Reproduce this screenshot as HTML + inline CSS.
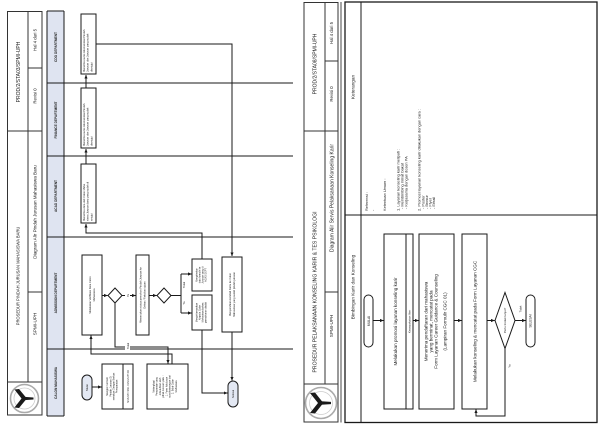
<!DOCTYPE html>
<html><head><meta charset="utf-8"><style>
html,body{margin:0;padding:0;background:#fff;}
svg{display:block;}
text{font-family:"Liberation Sans",sans-serif;fill:#222;}
.b{font-weight:bold;fill:#222;}
</style></head><body>
<svg width="600" height="424" viewBox="0 0 600 424" xmlns="http://www.w3.org/2000/svg">
<defs>
<marker id="a" markerWidth="4" markerHeight="4" refX="3.6" refY="2" orient="auto" markerUnits="userSpaceOnUse"><path d="M0,0.4 L3.8,2 L0,3.6 z" fill="#1a1a1a"/></marker>
</defs>
<rect width="600" height="424" fill="#fff"/>

<!-- ============ LEFT PAGE ============ -->
<g fill="none" stroke="#333" stroke-width="1">
<rect x="7.5" y="11.5" width="34.5" height="403.5"/>
<line x1="28" y1="11.5" x2="28" y2="382"/>
<line x1="7.5" y1="131" x2="42" y2="131"/>
<line x1="7.5" y1="382" x2="42" y2="382"/>
<line x1="28" y1="68" x2="42" y2="68"/>
<line x1="28" y1="292" x2="42" y2="292"/>
</g>
<text transform="translate(19.8,72) rotate(-90)" text-anchor="middle" font-size="5">PROD/2/STA03/SPMI-UPH</text>
<text transform="translate(19.6,276) rotate(-90)" text-anchor="middle" font-size="4.1">PROSEDUR PINDAH JURUSAN MAHASISWA BARU</text>
<text transform="translate(36.6,40) rotate(-90)" text-anchor="middle" font-size="4.3">Hal 4 dari 5</text>
<text transform="translate(36.6,96) rotate(-90)" text-anchor="middle" font-size="4.3">Revisi 0</text>
<text transform="translate(36.6,212) rotate(-90)" text-anchor="middle" font-size="4.6">Diagram Alir Pindah Jurusan Mahasiswa Baru</text>
<text transform="translate(36.6,324) rotate(-90)" text-anchor="middle" font-size="4.6">SPMI-UPH</text>
<!-- left logo -->
<g transform="translate(24.5,398.5)">
<circle r="14" fill="#fff" stroke="#aaa" stroke-width="1.6"/>
<circle r="10.5" fill="none" stroke="#ccc" stroke-width="0.8"/>
<path d="M-10,-9 L-5.5,-9.5 L1.5,-1 L-2,1.2 z" fill="#1a1a1a"/>
<path d="M-10,9 L-5.5,9.5 L1.5,1 L-2,-1.2 z" fill="#1a1a1a"/>
<path d="M0,-1.6 L9,-1 L9,1 L0,1.6 z" fill="#1a1a1a"/>
</g>

<!-- lane header column -->
<rect x="47" y="11" width="17" height="405" fill="#dfe4f1"/>
<g stroke="#1a1a1a" stroke-width="1" fill="none">
<line x1="47" y1="11" x2="47" y2="416"/>
<line x1="64" y1="11" x2="64" y2="416"/>
<line x1="47" y1="11" x2="64" y2="11"/>
<line x1="47" y1="416" x2="64" y2="416"/>
<line x1="47" y1="83" x2="293" y2="83"/>
<line x1="47" y1="156" x2="293" y2="156"/>
<line x1="47" y1="237" x2="293" y2="237"/>
<line x1="47" y1="349" x2="293" y2="349"/>
</g>
<text class="b" transform="translate(56.8,47) rotate(-90)" text-anchor="middle" font-size="3.2">CDO DEPARTMENT</text>
<text class="b" transform="translate(56.8,120) rotate(-90)" text-anchor="middle" font-size="3.2">FINANCE DEPARTMENT</text>
<text class="b" transform="translate(56.8,196) rotate(-90)" text-anchor="middle" font-size="3.2">ACAD DEPARTMENT</text>
<text class="b" transform="translate(56.8,293) rotate(-90)" text-anchor="middle" font-size="3.2">ADMISSION DEPARTMENT</text>
<text class="b" transform="translate(56.8,383) rotate(-90)" text-anchor="middle" font-size="3.2">CALON MAHASISWA</text>

<!-- connectors left page -->
<g stroke="#1a1a1a" stroke-width="1" fill="none">
<polyline points="96,44 232,44 232,256" marker-end="url(#a)"/>
<line x1="86" y1="88" x2="86" y2="75" marker-end="url(#a)"/>
<line x1="86" y1="164" x2="86" y2="149" marker-end="url(#a)"/>
<polyline points="202,259 202,233 86,233 86,224" marker-end="url(#a)"/>
<line x1="232" y1="332" x2="232" y2="380.5" marker-end="url(#a)"/>
<polyline points="202,330 202,393 227.5,393" marker-end="url(#a)"/>
<line x1="102" y1="295.5" x2="107.6" y2="295.5" marker-end="url(#a)"/>
<line x1="122" y1="295.5" x2="135.6" y2="295.5" marker-end="url(#a)"/>
<line x1="149" y1="295.5" x2="156.6" y2="295.5" marker-end="url(#a)"/>
<polyline points="171,295.5 181,295.5"/>
<line x1="181" y1="274" x2="181" y2="313"/>
<line x1="181" y1="274" x2="191.6" y2="274" marker-end="url(#a)"/>
<line x1="181" y1="313" x2="191.6" y2="313" marker-end="url(#a)"/>
<polyline points="115,303 115,347 168,347 168,363.5" marker-end="url(#a)"/>
<polyline points="172,364 172,354 91,354 91,335.5" marker-end="url(#a)"/>
<line x1="92" y1="387" x2="101.6" y2="387" marker-end="url(#a)"/>
</g>
<!-- labels -->
<rect x="125" y="292" width="5" height="7" fill="#fff"/>
<text transform="translate(128.8,295.5) rotate(-90)" text-anchor="middle" font-size="2.6">Ya</text>
<rect x="125" y="341" width="5" height="10" fill="#fff"/>
<text transform="translate(128.8,346) rotate(-90)" text-anchor="middle" font-size="2.6">Tidak</text>
<text transform="translate(185,303) rotate(-90)" text-anchor="middle" font-size="2.6">Ya</text>
<text transform="translate(185,285) rotate(-90)" text-anchor="middle" font-size="2.6">Tidak</text>

<!-- shapes left page -->
<g stroke="#1a1a1a" stroke-width="1" fill="#fff">
<rect x="81" y="14" width="15" height="60"/>
<rect x="81" y="88" width="15" height="60"/>
<rect x="81" y="164" width="15" height="59"/>
<rect x="82" y="255" width="20" height="80"/>
<polygon points="108,295.5 115,288 122,295.5 115,303"/>
<rect x="136" y="255" width="13" height="80"/>
<polygon points="157,295.5 164,288 171,295.5 164,303"/>
<rect x="192" y="259" width="20" height="32"/>
<rect x="192" y="295" width="20" height="35"/>
<rect x="222" y="257" width="20" height="75"/>
<rect x="102" y="364" width="31" height="45"/>
<line x1="123" y1="364" x2="123" y2="409"/>
<rect x="147" y="364" width="41" height="45"/>
<rect x="82" y="375" width="10" height="25" rx="5" fill="#e3e8f3"/>
<rect x="228" y="381" width="10" height="26" rx="5" fill="#e3e8f3"/>
</g>
<!-- box texts left page -->
<g font-size="2.6">
<text transform="translate(88.5,72) rotate(-90)"><tspan x="0" y="-3.4">Menerima surat rekomendasi Pindah</tspan><tspan x="0" y="0.2">Jurusan dan Jurusan yang sudah</tspan><tspan x="0" y="3.8">disetujui</tspan></text>
<text transform="translate(88.5,146) rotate(-90)"><tspan x="0" y="-3.4">Menerima surat rekomendasi Pindah</tspan><tspan x="0" y="0.2">Jurusan dan Jurusan yang sudah</tspan><tspan x="0" y="3.8">disetujui</tspan></text>
<text transform="translate(88.5,221) rotate(-90)"><tspan x="0" y="-3.4">Menerima data dari Calon Maha</tspan><tspan x="0" y="0.2">siswa Jurusan baru yang sudah di</tspan><tspan x="0" y="3.8">setujui</tspan></text>
<text transform="translate(92,295) rotate(-90)" text-anchor="middle"><tspan x="0" y="-0.8">Melakukan Verifikasi Data Calon</tspan><tspan x="0" y="2.8">Mahasiswa</tspan></text>
<text transform="translate(142.5,295) rotate(-90)" text-anchor="middle"><tspan x="0" y="-0.8">Menentukan status pemohon Pindah Jurusan ke</tspan><tspan x="0" y="2.8">Dekan / Fakultas tujuan</tspan></text>
<text transform="translate(202,275) rotate(-90)" text-anchor="middle" font-size="2.4"><tspan x="0" y="-4.6">Mengirimkan</tspan><tspan x="0" y="-1.6">data formulir ke</tspan><tspan x="0" y="1.4">Jurusan yang di</tspan><tspan x="0" y="4.4">ACAD DEPT</tspan></text>
<text transform="translate(202,312.5) rotate(-90)" text-anchor="middle" font-size="2.4"><tspan x="0" y="-4.6">Menginformasikan</tspan><tspan x="0" y="-1.6">Kepada Calon</tspan><tspan x="0" y="1.4">Mahasiswa bahwa</tspan><tspan x="0" y="4.4">permohonan ditolak</tspan></text>
<text transform="translate(232,294.5) rotate(-90)" text-anchor="middle"><tspan x="0" y="-0.8">Menyerahkan kembali Kartu ke Calon</tspan><tspan x="0" y="2.8">Mahasiswa yang sudah pindah jurusan</tspan></text>
<text transform="translate(87,387.5) rotate(-90)" text-anchor="middle" font-size="2.8" y="1">Mulai</text>
<text transform="translate(233,394) rotate(-90)" text-anchor="middle" font-size="2.6" y="1">Selesai</text>
<text transform="translate(112.5,386.5) rotate(-90)" text-anchor="middle" font-size="2.5"><tspan x="0" y="-4.4">Mengisi Formulir</tspan><tspan x="0" y="-1.2">Pindah Jurusan Di</tspan><tspan x="0" y="2">sertakan Dengan Berkas</tspan><tspan x="0" y="5.2">Persyaratan</tspan></text>
<text transform="translate(129,386.5) rotate(-90)" text-anchor="middle" font-size="2.4">MKS-STF NM1 FRM1/UPH 03</text>
<text transform="translate(167.5,386.5) rotate(-90)" text-anchor="middle" font-size="2.4"><tspan x="0" y="-13">Melengkapi</tspan><tspan x="0" y="-9.8">Persyaratan yang</tspan><tspan x="0" y="-6.6">di butuhkan oleh</tspan><tspan x="0" y="-3.4">pihak Jurusan yaitu :</tspan><tspan x="0" y="-0.2">1. Form Kelulusan</tspan><tspan x="0" y="3">surat keterangan dari</tspan><tspan x="0" y="6.2">2. Bukti Calon</tspan><tspan x="0" y="9.4">Mahasiswa</tspan></text>
</g>

<!-- ============ RIGHT PAGE ============ -->
<g fill="none" stroke="#333" stroke-width="1">
<rect x="304" y="2.5" width="34" height="419.5"/>
<line x1="325" y1="2.5" x2="325" y2="384"/>
<line x1="304" y1="131" x2="338" y2="131"/>
<line x1="304" y1="384" x2="338" y2="384"/>
<line x1="325" y1="61" x2="338" y2="61"/>
<line x1="325" y1="292" x2="338" y2="292"/>
</g>
<text transform="translate(316.3,64) rotate(-90)" text-anchor="middle" font-size="5">PROD/2/STA08/SPMI-UPH</text>
<text transform="translate(316.7,292) rotate(-90)" text-anchor="middle" font-size="5.1">PROSEDUR PELAKSANAAN KONSELING KARIR &amp; TES PSIKOLOGI</text>
<text transform="translate(333,33) rotate(-90)" text-anchor="middle" font-size="4.3">Hal 4 dari 5</text>
<text transform="translate(333,94) rotate(-90)" text-anchor="middle" font-size="4.3">Revisi 0</text>
<text transform="translate(333.4,198) rotate(-90)" text-anchor="middle" font-size="5">Diagram Alir Servis Pelaksanaan Konseling Karir</text>
<text transform="translate(333.2,326) rotate(-90)" text-anchor="middle" font-size="4.6">SPMI-UPH</text>
<g transform="translate(321,403)">
<circle r="15.5" fill="#fff" stroke="#aaa" stroke-width="1.6"/>
<circle r="11.5" fill="none" stroke="#ccc" stroke-width="0.8"/>
<path d="M-11,-10 L-6,-10.5 L1.5,-1 L-2,1.3 z" fill="#1a1a1a"/>
<path d="M-11,10 L-6,10.5 L1.5,1 L-2,-1.3 z" fill="#1a1a1a"/>
<path d="M0,-1.8 L10,-1.1 L10,1.1 L0,1.8 z" fill="#1a1a1a"/>
</g>

<!-- main table frame -->
<g fill="none" stroke="#1a1a1a">
<line x1="341" y1="2" x2="341" y2="422.5" stroke-width="0.8"/>
<rect x="345" y="2" width="252" height="420.5" stroke-width="1.3"/>
<line x1="361" y1="2" x2="361" y2="422.5" stroke-width="1"/>
<line x1="345" y1="215" x2="597" y2="215" stroke-width="1"/>
</g>
<text transform="translate(354.6,87) rotate(-90)" text-anchor="middle" font-size="4.7">Keterangan</text>
<text transform="translate(354.6,287) rotate(-90)" text-anchor="middle" font-size="4.7">Bimbingan Karir dan Konseling</text>

<g font-size="3.9">
<text transform="translate(368,211) rotate(-90)">Referensi :</text>
<text transform="translate(374,211) rotate(-90)">-</text>
<text transform="translate(386,211) rotate(-90)">Ketentuan Umum :</text>
<text transform="translate(399.5,211) rotate(-90)">1. Layanan konseling karir meliputi :</text>
<text transform="translate(403.5,209) rotate(-90)">- Membimbing minat bakat</text>
<text transform="translate(407.5,209) rotate(-90)">- Kerjasama dengan dosen PA</text>
<text transform="translate(420.5,211) rotate(-90)">2. Promosi layanan konseling karir dilakukan dengan cara :</text>
<text transform="translate(424.5,209) rotate(-90)">- Poster</text>
<text transform="translate(428,209) rotate(-90)">- Brosur</text>
<text transform="translate(431.5,209) rotate(-90)">- Flyer</text>
<text transform="translate(435,209) rotate(-90)">- Email</text>
</g>

<!-- right page connectors -->
<g stroke="#1a1a1a" stroke-width="1" fill="none">
<line x1="373" y1="320.5" x2="383.6" y2="320.5" marker-end="url(#a)"/>
<line x1="413" y1="320.5" x2="418.6" y2="320.5" marker-end="url(#a)"/>
<line x1="454" y1="320.5" x2="461.6" y2="320.5" marker-end="url(#a)"/>
<line x1="487" y1="320.5" x2="494.6" y2="320.5" marker-end="url(#a)"/>
<line x1="515" y1="320.5" x2="525.6" y2="320.5" marker-end="url(#a)"/>
<polyline points="505,348.5 505,416 476,416 476,409.5" marker-end="url(#a)"/>
</g>
<g stroke="#1a1a1a" stroke-width="1" fill="#fff">
<rect x="364" y="295" width="9" height="52" rx="4.5"/>
<rect x="384" y="234" width="29" height="175"/>
<line x1="406" y1="234" x2="406" y2="409"/>
<rect x="419" y="234" width="35" height="175"/>
<rect x="462" y="234" width="25" height="175"/>
<polygon points="495,320.5 505,292.5 515,320.5 505,348.5"/>
<rect x="526" y="295" width="9" height="52" rx="4.5"/>
</g>
<text transform="translate(369.8,321) rotate(-90)" text-anchor="middle" font-size="3.4">MULAI</text>
<text transform="translate(396.8,321.5) rotate(-90)" text-anchor="middle" font-size="4.6">Melakukan promosi layanan konseling karir</text>
<text transform="translate(410.5,321.5) rotate(-90)" text-anchor="middle" font-size="3">Kesepakatan Ilter</text>
<g font-size="4.6">
<text transform="translate(427.5,321.5) rotate(-90)" text-anchor="middle">Menerima pendaftaran dari mahasiswa</text>
<text transform="translate(432.5,321.5) rotate(-90)" text-anchor="middle">yang berminat, mencatat pada</text>
<text transform="translate(437.5,321.5) rotate(-90)" text-anchor="middle">Form Layanan Career Guidance &amp; Counseling</text>
<text transform="translate(446.5,321.5) rotate(-90)" text-anchor="middle">(Lampiran Formulir CGC 01)</text>
<text transform="translate(476.5,321.5) rotate(-90)" text-anchor="middle">Melakukan konseling &amp; mencatat pada Form Layanan CGC</text>
</g>
<text transform="translate(506,320.5) rotate(-90)" text-anchor="middle" font-size="3">Perlu tindak lanjut?</text>
<text transform="translate(521.5,309) rotate(-90)" text-anchor="middle" font-size="2.8">Tidak</text>
<text transform="translate(510.5,366) rotate(-90)" text-anchor="middle" font-size="2.8">Ya</text>
<text transform="translate(531.5,321) rotate(-90)" text-anchor="middle" font-size="3.2">SELESAI</text>
</svg>
</body></html>
